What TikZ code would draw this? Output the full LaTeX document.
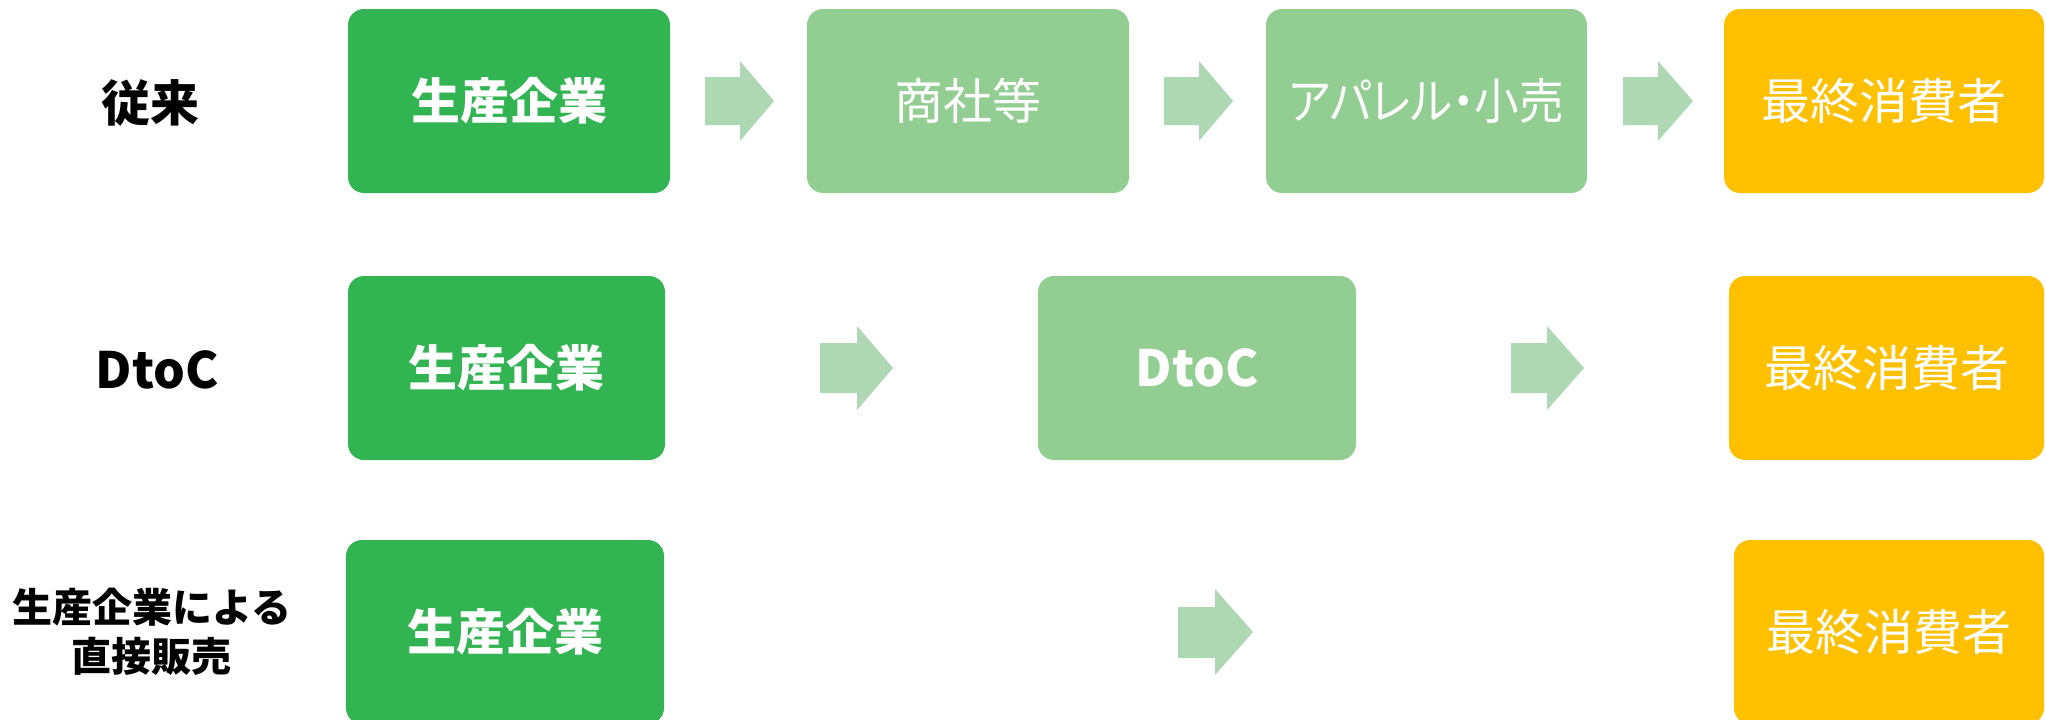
\documentclass[tikz,border=0pt]{standalone}
\usepackage{fontspec}
\setmainfont{Noto Sans CJK JP}
\definecolor{dgreen}{HTML}{32B452}
\definecolor{lgreen}{HTML}{92CD92}
\definecolor{agreen}{HTML}{AED7B4}
\definecolor{gold}{HTML}{FFC000}
\tikzset{
  box/.style={rectangle, rounded corners=16pt, minimum height=184pt, inner sep=0pt, text=white, font=\fontsize{49}{54}\selectfont},
  prodbox/.style={box, fill=dgreen, font=\fontsize{49}{54}\selectfont\bfseries},
  midbox/.style={box, fill=lgreen},
  endbox/.style={box, fill=gold},
  rowlabel/.style={text=black, align=center, font=\fontsize{49}{54}\selectfont\bfseries},
  blockarrow/.style={fill=agreen, draw=none}
}
\begin{document}
\begin{tikzpicture}[x=1pt,y=-1pt]
\useasboundingbox (0,0) rectangle (2046,720);
\clip (0,0) rectangle (2046,720);
% row 1
\node[rowlabel] (l1) at (150,103) {従来};
\node[prodbox, minimum width=322pt] (p1) at (509,101) {生産企業};
\node[midbox, minimum width=322pt] (s1) at (968,101) {商社等};
\node[midbox, minimum width=321pt] (a1) at (1426.5,101) {\addfontfeature{RawFeature=+palt,FakeStretch=0.91}アパレル・小売};
\node[endbox, minimum width=320pt] (c1) at (1884,101) {最終消費者};
\fill[blockarrow] (705,77) -- (740,77) -- (740,61) -- (774,101) -- (740,141) -- (740,125) -- (705,125) -- cycle;
\fill[blockarrow] (1164,77) -- (1199,77) -- (1199,61) -- (1233,101) -- (1199,141) -- (1199,125) -- (1164,125) -- cycle;
\fill[blockarrow] (1623,77) -- (1658,77) -- (1658,61) -- (1693,101) -- (1658,141) -- (1658,125) -- (1623,125) -- cycle;
% row 2
\node[rowlabel, font=\fontsize{50}{55}\selectfont\bfseries] (l2) at (157,370) {DtoC};
\node[prodbox, minimum width=317pt] (p2) at (506.5,368) {生産企業};
\node[midbox, minimum width=318pt, font=\fontsize{50}{55}\selectfont\bfseries] (d2) at (1197,368) {DtoC};
\node[endbox, minimum width=315pt] (c2) at (1886.5,368) {最終消費者};
\fill[blockarrow] (820,343) -- (857,343) -- (857,326) -- (893,368) -- (857,410) -- (857,393) -- (820,393) -- cycle;
\fill[blockarrow] (1511,343) -- (1547,343) -- (1547,326) -- (1584,368) -- (1547,410) -- (1547,393) -- (1511,393) -- cycle;
% row 3
\node[rowlabel, font=\fontsize{40}{49}\selectfont\bfseries] (l3) at (152,632) {生産企業による\\直接販売};
\node[prodbox, minimum width=318pt] (p3) at (505,632) {生産企業};
\node[endbox, minimum width=310pt] (c3) at (1889,632) {最終消費者};
\fill[blockarrow] (1178,607) -- (1215,607) -- (1215,589) -- (1253,632) -- (1215,675) -- (1215,658) -- (1178,658) -- cycle;
\end{tikzpicture}
\end{document}
